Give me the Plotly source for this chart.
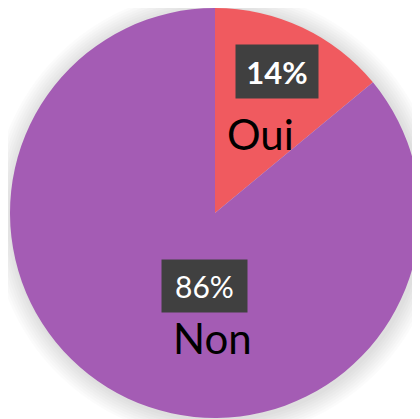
import plotly.graph_objects as go

labels = ["Oui", "Non"]
values = [14, 86]
colors = ["#F05A5F", "#A45CB4"]

fig = go.Figure()
fig.add_trace(go.Pie(
    labels=labels, values=values, sort=False, direction="clockwise", rotation=0,
    marker=dict(colors=colors, line=dict(width=0)),
    textinfo="none", hoverinfo="label+percent", showlegend=False,
    domain=dict(x=[0, 1], y=[0, 1]),
))

total = sum(values)
pct = [f"{round(v * 100 / total)}%" for v in values]

# soft shadow around the pie
shapes = []
for k in range(8, 0, -1):
    d = k * 2.5 / 410
    shapes.append(dict(type="circle", xref="paper", yref="paper",
                       x0=-d + 0.004, x1=1 + d + 0.004, y0=-d - 0.004, y1=1 + d - 0.004,
                       fillcolor="rgba(0,0,0,0.016)", line=dict(width=0), layer="below"))

font = "Lato, 'Noto Sans', sans-serif"
ann = [
    dict(x=0.652, y=0.845, text=f"<b>{pct[0]}</b>", font=dict(size=31, color="white", family=font),
         bgcolor="#404040", width=74, height=45, borderpad=4),
    dict(x=0.61, y=0.693, text=labels[0], font=dict(size=42, color="black", family=font)),
    dict(x=0.474, y=0.322, text=pct[1], font=dict(size=30, color="white", family=font),
         bgcolor="#404040", width=75, height=42, borderpad=5),
    dict(x=0.493, y=0.195, text=labels[1], font=dict(size=42, color="black", family=font)),
]
for a in ann:
    a.update(xref="paper", yref="paper", showarrow=False, xanchor="center", yanchor="middle")

fig.update_layout(
    width=412, height=411,
    margin=dict(l=2, r=0, t=0, b=1),
    paper_bgcolor="white", plot_bgcolor="white",
    shapes=shapes, annotations=ann,
)
fig.write_html("out.html")
